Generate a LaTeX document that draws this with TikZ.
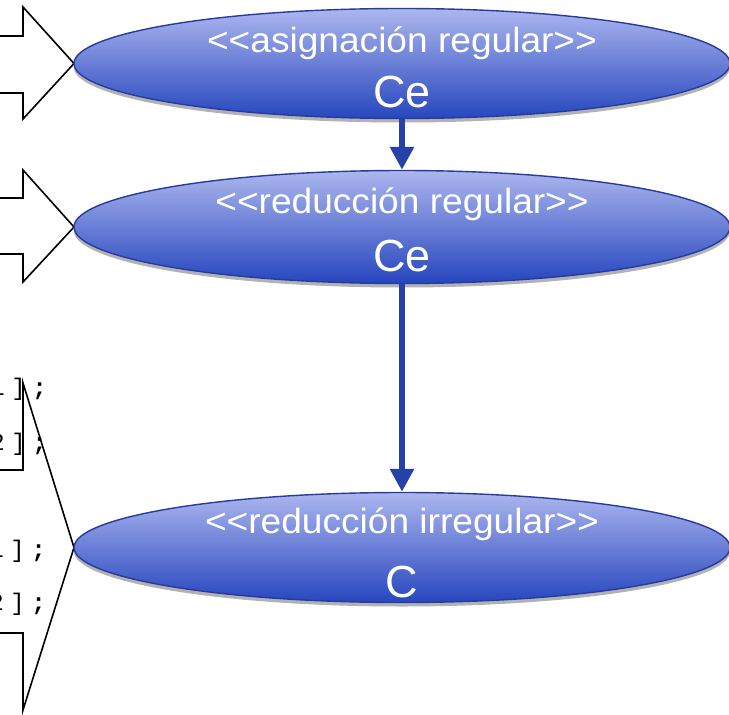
\documentclass[tikz,border=0pt]{standalone}
\usepackage{fontspec}
\usepackage{graphicx}
\newfontfamily\arial{Liberation Sans}
\newfontfamily\cour{Liberation Mono}
\usetikzlibrary{shapes.geometric,arrows.meta,shadows}
\definecolor{etop}{RGB}{172,182,238}
\definecolor{ebot}{RGB}{38,70,190}
\definecolor{eline}{RGB}{36,60,160}
\definecolor{arr}{RGB}{38,66,168}
\newcommand{\cc}[1]{\makebox[21pt]{#1}}
\tikzset{
 uc/.style={ellipse, minimum width=656pt, minimum height=110pt, inner sep=0pt, draw=eline, line width=1.4pt, top color=etop, bottom color=ebot, drop shadow={shadow xshift=0pt, shadow yshift=-4pt, opacity=0.3, fill=black}},
 stereo/.style={anchor=base, text=white, font=\arial\fontsize{35}{35}\selectfont, inner sep=0pt},
 uname/.style={anchor=base, text=white, font=\arial\fontsize{45}{45}\selectfont, inner sep=0pt},
 flow/.style={draw=arr, line width=6pt, -{Triangle[width=23pt,length=23pt]}},
 blockarrow/.style={draw=black, line width=1.6pt, fill=white, line join=miter},
 code/.style={anchor=base west, font=\cour\fontsize{24}{24}\selectfont, inner sep=0pt}
}
\begin{document}
\begin{tikzpicture}[x=1pt,y=-1pt]
\useasboundingbox (0,0) rectangle (729,715);
% positions of the use cases
\coordinate (c1) at (402,63.5);
\coordinate (c2) at (402,227);
\coordinate (c3) at (402,547.5);
% block arrows on the left
\draw[blockarrow] (-10,36) -- (23,36) -- (23,7) -- (74,63.5) -- (23,119) -- (23,93) -- (-10,93);
\draw[blockarrow] (-10,198) -- (23,198) -- (23,170) -- (74,227) -- (23,282) -- (23,254) -- (-10,254);
\draw[blockarrow, fill=none] (-10,470) -- (23,470) -- (23,383) -- (74,547.5) -- (23,710) -- (23,633) -- (-10,633);
% code fragments
\node[code] (k1) at (-13,395) {\cc{1}\cc{]}\cc{\bfseries;}};
\node[code] (k2) at (-13,450) {\cc{2}\cc{]}\cc{\bfseries;}};
\node[code] (k3) at (-14,557) {\cc{1}\cc{]}\cc{\bfseries;}};
\node[code] (k4) at (-14,610) {\cc{2}\cc{]}\cc{\bfseries;}};
% use cases
\node[uc] (e1) at (c1) {};
\node[uc, minimum height=113pt] (e2) at (c2) {};
\node[uc] (e3) at (c3) {};
\node[stereo] (s1) at (402,52) {\scalebox{1.06}[1]{<\kern0pt<asignación regular>\kern0pt>}};
\node[uname] (n1) at (402,107) {Ce};
\node[stereo] (s2) at (402,213) {\scalebox{1.06}[1]{<\kern0pt<reducción regular>\kern0pt>}};
\node[uname] (n2) at (402,271) {Ce};
\node[stereo] (s3) at (402,533) {\scalebox{1.06}[1]{<\kern0pt<reducción irregular>\kern0pt>}};
\node[uname] (n3) at (402,597) {C};
% flows
\draw[flow] (e1.south) -- (e2.north);
\draw[flow] (e2.south) -- (e3.north);
\end{tikzpicture}
\end{document}
